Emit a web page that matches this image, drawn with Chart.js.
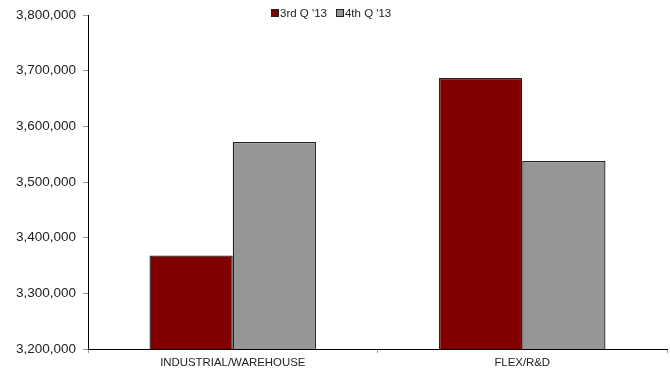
<!DOCTYPE html>
<html>
<head>
<meta charset="utf-8">
<script src="https://cdn.jsdelivr.net/npm/chart.js@4/dist/chart.umd.min.js"></script>
<style>
  html, body { margin: 0; padding: 0; background: #fff; }
  #wrap { position: relative; width: 670px; height: 368px; }
  #legend { position: absolute; top: 7px; left: 271px; font: 11.5px "Liberation Sans", Arial, sans-serif; color: #222; white-space: nowrap; }
  #legend span.item { margin-right: 9px; }
  #legend span.box { display: inline-block; width: 6px; height: 6px; border: 1px solid #222; margin-right: 1px; vertical-align: 0px; }
</style>
</head>
<body>
<div id="wrap">
  <canvas id="c" width="670" height="368"></canvas>
  <div id="legend"></div>
</div>
<script>
const categories = ["INDUSTRIAL/WAREHOUSE", "FLEX/R&D"];
const seriesNames = ["3rd Q '13", "4th Q '13"];
const q3_2013 = [3368000, 3687000];
const q4_2013 = [3572000, 3538000];
const yTicks = [3200000, 3300000, 3400000, 3500000, 3600000, 3700000, 3800000];

const colors = ["#800000", "#969696"];

const legendEl = document.getElementById('legend');
seriesNames.forEach((n, i) => {
  const it = document.createElement('span');
  it.className = 'item';
  const b = document.createElement('span');
  b.className = 'box';
  b.style.background = colors[i];
  it.appendChild(b);
  it.appendChild(document.createTextNode(n));
  legendEl.appendChild(it);
});

const font = "'Liberation Sans', Arial, sans-serif";
new Chart(document.getElementById('c'), {
  type: 'bar',
  data: {
    labels: categories,
    datasets: [
      { label: seriesNames[0], data: q3_2013, backgroundColor: colors[0], borderColor: '#222', borderWidth: 1.3, borderSkipped: false },
      { label: seriesNames[1], data: q4_2013, backgroundColor: colors[1], borderColor: '#222', borderWidth: 1.3, borderSkipped: false }
    ]
  },
  options: {
    responsive: false,
    animation: false,
    layout: { padding: { top: 12, right: 3, left: 0, bottom: 0 } },
    plugins: { legend: { display: false }, tooltip: { enabled: false } },
    datasets: { bar: { categoryPercentage: 0.575, barPercentage: 1.0 } },
    scales: {
      x: {
        offset: true,
        grid: { offset: true, drawOnChartArea: false, drawTicks: true, tickLength: 4, color: '#999' },
        border: { color: '#000', width: 1 },
        ticks: { font: { family: font, size: 11.4 }, color: '#222', padding: 3, maxRotation: 0 },
        afterFit: s => { s.height = 19; }
      },
      y: {
        min: 3200000,
        max: 3800000,
        afterBuildTicks: s => { s.ticks = yTicks.map(v => ({ value: v })); },
        grid: { drawOnChartArea: false, drawTicks: true, tickLength: 5, color: '#999' },
        border: { color: '#000', width: 1 },
        ticks: {
          font: { family: font, size: 13.5 }, color: '#222', padding: 7,
          callback: v => v.toLocaleString('en-US')
        },
        afterFit: s => { s.width = 88; }
      }
    }
  }
});
</script>
</body>
</html>
